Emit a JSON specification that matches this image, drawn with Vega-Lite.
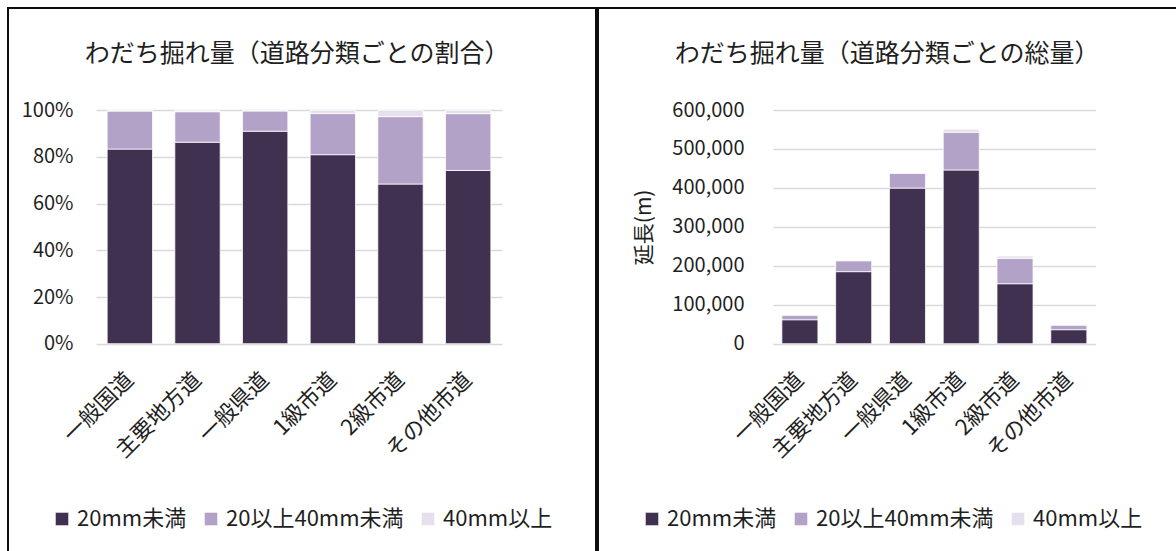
{
  "$schema": "https://vega.github.io/schema/vega-lite/v6.json",
  "padding": {"left": 7, "top": 7, "right": 0, "bottom": 0},
  "background": "white",
  "spacing": 0,
  "datasets": {
    "rut": [
      {"road": "一般国道", "cls": "20mm未満", "k": 1, "len": 61500},
      {"road": "一般国道", "cls": "20以上40mm未満", "k": 2, "len": 12000},
      {"road": "一般国道", "cls": "40mm以上", "k": 3, "len": 250},
      {"road": "主要地方道", "cls": "20mm未満", "k": 1, "len": 185000},
      {"road": "主要地方道", "cls": "20以上40mm未満", "k": 2, "len": 28000},
      {"road": "主要地方道", "cls": "40mm以上", "k": 3, "len": 1300},
      {"road": "一般県道", "cls": "20mm未満", "k": 1, "len": 399500},
      {"road": "一般県道", "cls": "20以上40mm未満", "k": 2, "len": 38000},
      {"road": "一般県道", "cls": "40mm以上", "k": 3, "len": 1300},
      {"road": "1級市道", "cls": "20mm未満", "k": 1, "len": 446000},
      {"road": "1級市道", "cls": "20以上40mm未満", "k": 2, "len": 97000},
      {"road": "1級市道", "cls": "40mm以上", "k": 3, "len": 7700},
      {"road": "2級市道", "cls": "20mm未満", "k": 1, "len": 154000},
      {"road": "2級市道", "cls": "20以上40mm未満", "k": 2, "len": 65000},
      {"road": "2級市道", "cls": "40mm以上", "k": 3, "len": 6100},
      {"road": "その他市道", "cls": "20mm未満", "k": 1, "len": 36000},
      {"road": "その他市道", "cls": "20以上40mm未満", "k": 2, "len": 11800},
      {"road": "その他市道", "cls": "40mm以上", "k": 3, "len": 700}
    ]
  },
  "config": {
    "font": "Noto Sans CJK JP",
    "view": {"stroke": "#0d0d0d", "strokeWidth": 2},
    "axis": {
      "labelFont": "Noto Sans CJK JP",
      "labelColor": "#1f1f1f",
      "labelFontSize": 20,
      "domain": false,
      "ticks": false,
      "tickSize": 0,
      "gridColor": "#d9d9d9",
      "gridWidth": 1.5
    },
    "title": {
      "font": "Noto Sans CJK JP",
      "fontSize": 25,
      "fontWeight": "normal",
      "color": "#1f1f1f",
      "anchor": "middle",
      "offset": -59,
      "baseline": "alphabetic",
      "dx": -5
    },
    "legend": {
      "orient": "none",
      "legendX": 43,
      "legendY": 500,
      "direction": "horizontal",
      "title": null,
      "symbolType": "square",
      "symbolSize": 180,
      "symbolStrokeWidth": 0,
      "labelFont": "Noto Sans CJK JP",
      "labelFontSize": 22,
      "labelColor": "#1f1f1f",
      "labelOffset": 4,
      "labelLimit": 400,
      "columnPadding": 13
    },
    "bar": {"stroke": "white", "strokeWidth": 0.75}
  },
  "resolve": {"legend": {"color": "independent"}},
  "hconcat": [
    {
      "width": 588,
      "height": 550,
      "data": {"name": "rut"},
      "title": {"text": "わだち掘れ量（道路分類ごとの割合）"},
      "mark": {"type": "bar"},
      "encoding": {
        "x": {
          "field": "road", "type": "nominal",
          "sort": ["一般国道", "主要地方道", "一般県道", "1級市道", "2級市道", "その他市道"],
          "scale": {"range": [88, 494], "paddingInner": 0.33, "paddingOuter": 0.165},
          "axis": {"title": null, "labelAngle": -45, "labelAlign": "right", "labelBaseline": "middle", "labelFontSize": 22, "labelPadding": 32, "labelOffset": 0, "offset": -214.3}
        },
        "y": {
          "field": "len", "type": "quantitative", "stack": "normalize",
          "scale": {"domain": [0, 1], "range": [335.7, 102.3]},
          "axis": {"title": null, "values": [0, 0.2, 0.4, 0.6, 0.8, 1], "format": ".0%", "offset": -65, "labelPadding": 0}
        },
        "color": {
          "field": "cls", "type": "nominal",
          "scale": {"domain": ["20mm未満", "20以上40mm未満", "40mm以上"], "range": ["#403151", "#b3a2c7", "#e6e0ec"]}
        },
        "order": {"field": "k", "type": "quantitative"}
      }
    },
    {
      "width": 588,
      "height": 550,
      "data": {"name": "rut"},
      "title": {"text": "わだち掘れ量（道路分類ごとの総量）"},
      "mark": {"type": "bar"},
      "encoding": {
        "x": {
          "field": "road", "type": "nominal",
          "sort": ["一般国道", "主要地方道", "一般県道", "1級市道", "2級市道", "その他市道"],
          "scale": {"range": [175, 497.7], "paddingInner": 0.33, "paddingOuter": 0.165},
          "axis": {"title": null, "labelAngle": -45, "labelAlign": "right", "labelBaseline": "middle", "labelFontSize": 22, "labelPadding": 32, "labelOffset": 0, "offset": -214.3}
        },
        "y": {
          "field": "len", "type": "quantitative", "stack": "zero",
          "scale": {"domain": [0, 600000], "range": [335.7, 102]},
          "axis": {
            "title": "延長(m)", "titleFont": "Noto Sans CJK JP", "titleFontSize": 21, "titleFontWeight": "normal", "titleColor": "#1f1f1f", "titlePadding": 17,
            "values": [0, 100000, 200000, 300000, 400000, 500000, 600000], "format": ",d", "offset": -146, "labelPadding": 0
          }
        },
        "color": {
          "field": "cls", "type": "nominal",
          "scale": {"domain": ["20mm未満", "20以上40mm未満", "40mm以上"], "range": ["#403151", "#b3a2c7", "#e6e0ec"]}
        },
        "order": {"field": "k", "type": "quantitative"}
      }
    }
  ]
}
